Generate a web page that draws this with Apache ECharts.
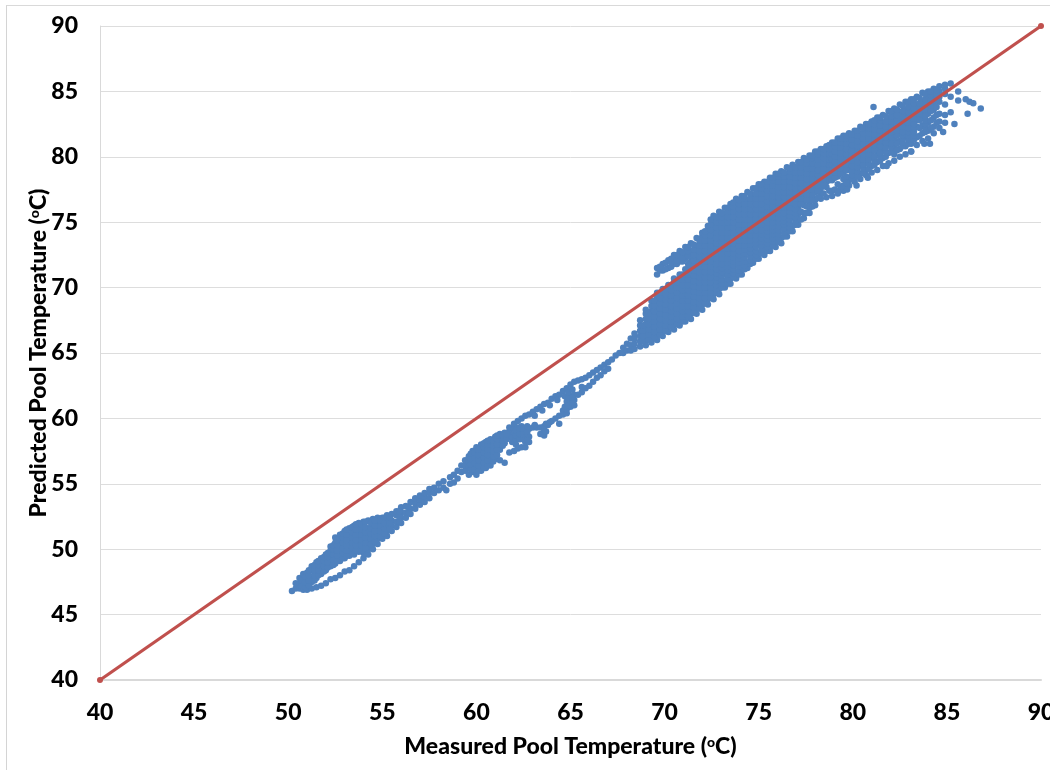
<!DOCTYPE html>
<html><head><meta charset="utf-8">
<script src="https://cdn.jsdelivr.net/npm/echarts@6/dist/echarts.min.js"></script>
<style>html,body{margin:0;padding:0;background:#fff;overflow:hidden}
#frame{position:absolute;left:6px;top:5px;width:1044px;height:765px;border-left:1px solid #d4d4d4;border-top:1px solid #d9d9d9}
#c{position:absolute;left:0;top:0;width:1050px;height:770px}</style></head>
<body><div id="frame"></div><div id="c"></div>
<script>
// Each row: measured temperature, then the predicted temperatures read at that column
const lowClusterRows = [
[50.2,46.8],[50.4,47.0,47.4],[50.6,47.0,47.4,47.8],[50.8,46.9,47.3,47.7,48.1],[51.0,46.9,47.3,47.7,48.2],
[51.25,47.0,47.5,47.9,48.4,48.7],[51.5,47.1,47.8,48.2,48.6,49.0],[51.75,47.2,48.1,48.5,48.9,49.3],[52.0,47.4,48.4,48.8,49.2,49.6],
[52.25,47.7,48.7,49.1,49.5,49.9,50.2],[52.5,47.8,48.9,49.3,49.7,50.1,50.5,50.9],[52.75,48.0,49.1,49.5,49.9,50.3,50.7,51.1],
[53.0,48.3,49.3,49.7,50.1,50.5,50.9,51.4],[53.25,48.4,49.5,49.9,50.3,50.7,51.1,51.6],[53.5,48.7,49.6,50.0,50.4,50.8,51.2,51.8],
[53.75,49.0,49.8,50.2,50.6,51.0,51.4,51.8,52.0],[54.0,49.3,49.7,50.1,50.5,50.9,51.3,51.7,52.1],[54.25,49.6,50.0,50.4,50.8,51.2,51.6,52.2],
[54.5,50.0,50.4,50.8,51.2,51.6,52.0,52.3],[54.75,50.4,50.8,51.2,51.6,52.0,52.4],[55.0,50.8,51.2,51.6,52.0,52.4],
[55.25,51.0,51.4,51.8,52.2,52.6],[55.5,51.4,51.8,52.2,52.7],[55.75,51.7,52.1,52.6,52.9],[56.0,52.0,52.4,52.8,53.2],
[56.25,52.4,52.8,53.3],[56.5,52.7,53.1,53.6],[56.75,53.1,53.5,53.9],[57.0,53.4,53.8,54.1],[57.25,53.6,54.0,54.3],
[57.5,53.9,54.3,54.6],[57.75,54.3,54.7],[58.0,54.5,55.0],[58.25,54.7,55.2],[58.4,54.5],[58.6,55.0,55.5],[58.8,55.1,55.7],[59.0,55.4,56.0]
];
const lowFillRows = [
[50.7,47.2,47.6],[50.9,47.1,47.5,47.9],[51.1,47.2,47.6,48.0,48.4],[51.4,47.6,48.0,48.4,48.8],[51.6,48.0,48.4,48.8,49.1],[51.9,48.3,48.7,49.1,49.4],
[52.1,48.6,49.0,49.4,49.7],[52.4,48.8,49.2,49.6,50.0,50.3],[52.6,49.1,49.5,49.9,50.3,50.7],[52.9,49.3,49.7,50.1,50.5,50.9,51.2],[53.1,49.5,49.9,50.3,50.7,51.1,51.5],
[53.4,49.7,50.1,50.5,50.9,51.3,51.7],[53.6,49.9,50.3,50.7,51.1,51.5,51.9],[53.9,49.9,50.3,50.7,51.1,51.5,51.9],[54.1,50.1,50.5,50.9,51.3,51.7,52.1],
[54.4,50.4,50.8,51.2,51.6,52.0],[54.6,50.6,51.0,51.4,51.8,52.2],[54.9,51.0,51.4,51.8,52.2],[55.1,51.2,51.6,52.0,52.4],[55.4,51.6,52.0,52.4],[55.9,52.1,52.5,52.9],[56.4,52.8,53.2]
];
const midClusterRows = [
[59.2,55.9,56.4],[59.4,56.0,56.4,56.8],[59.6,55.7,56.3,56.7,57.1],[59.8,55.9,56.4,56.8,57.2,57.5],[60.0,55.7,56.2,56.6,57.0,57.4,57.8],
[60.25,56.0,56.4,56.8,57.2,57.6,58.0],[60.5,56.2,56.6,57.0,57.4,57.8,58.2],[60.75,56.4,56.8,57.2,57.6,58.0,58.4],[61.0,56.9,57.3,57.7,58.1,58.6],
[61.25,56.8,57.6,58.0,58.4,58.8],[61.5,56.6,58.1,58.5,58.9],[61.75,57.4,58.6,59.0,59.3],[62.0,57.5,58.8,59.2,59.6],[62.2,57.7,58.9,59.3,59.8],
[62.4,57.8,59.0,59.4,60.0],[62.6,57.8,58.2,58.6,59.0,60.2],[62.8,58.2,58.6,59.2,60.3],[63.0,59.3,60.5],[63.2,59.3,60.7],[63.4,58.8,59.3,60.9],
[63.6,58.7,59.1,59.4,61.1],[63.8,59.5,61.2],[64.0,59.8,61.5],[64.2,60.0,61.7],[64.4,59.6,60.2,61.8],[64.6,60.3,60.6,62.1],[64.8,60.4,60.7,61.3,62.3],
[65.0,60.9,61.3,61.7,62.6],[65.2,61.0,61.4,61.8,62.8],[65.4,61.8,62.9],[65.6,62.0,62.4,63.0]
];
const midFillRows = [
[59.7,56.1,56.5,56.9,57.3],[59.9,56.1,56.6,57.0,57.4],[60.1,56.0,56.4,56.8,57.2,57.6],[60.4,56.2,56.6,57.0,57.4,57.8,58.1],[60.6,56.4,56.8,57.2,57.6,58.0,58.3],
[60.9,56.7,57.1,57.5,57.9,58.3],[61.1,57.2,57.6,58.0,58.4,58.7],[61.4,57.9,58.3,58.7],[61.6,58.4,58.8],[61.9,58.2,58.5],[62.1,58.0,58.4,58.7,59.1],[62.3,58.4,58.8,59.2],
[62.5,58.4,58.8,59.2],[62.7,58.4,58.8,59.0,59.4],[63.1,59.5,60.2],[63.5,60.6],[63.7,59.0,59.6],[63.9,59.7,61.0],[64.3,61.4],[64.7,60.9,61.7],[64.9,61.0,61.6,62.0],[65.1,61.2,61.6,62.2]
];
const tailRows = [
[65.8,62.3,63.1],[66.0,62.5,63.3],[66.2,62.8,63.5],[66.4,63.1,63.7],[66.6,63.3,63.9],[66.8,63.6,64.1],[67.0,63.8,64.3],[67.2,64.5],[67.4,64.8],
[67.6,65.0],[67.8,65.0,65.4],[68.0,65.2,65.7],[68.2,65.2,65.6,66.1]
];
const upperLeftRows = [
[68.4,65.3,65.7,66.1,66.5],[68.7,65.5,65.9,66.3,66.7,67.1,67.5],[69.0,65.6,66.0,66.4,66.8,67.2,67.6,68.0,68.3],
[69.3,65.8,66.2,66.6,67.0,67.4,67.8,68.2,68.6,69.0],[69.6,66.0,66.4,66.8,67.2,67.6,68.0,68.4,68.8,69.2,69.6,71.0,71.5],
[69.9,66.3,66.7,67.1,67.5,67.9,68.3,68.7,69.1,69.5,69.9,71.3,71.8],[70.2,66.6,67.0,67.4,67.8,68.2,68.6,69.0,69.4,69.8,70.2,71.5,72.1],
[70.5,66.8,67.2,67.6,68.0,68.4,68.8,69.2,69.6,70.0,70.4,70.7,71.8,72.2,72.5],[70.8,67.1,67.5,67.9,68.3,68.7,69.1,69.5,69.9,70.3,70.7,71.0,72.0,72.4,72.8],
[71.1,67.4,67.8,68.2,68.6,69.0,69.4,69.8,70.2,70.6,71.0,71.4,72.2,72.6,73.1],[71.4,67.6,68.0,68.4,68.8,69.2,69.6,70.0,70.4,70.8,71.2,71.6,72.0,72.4,72.8,73.4],
[71.7,68.0,68.4,68.8,69.2,69.6,70.0,70.4,70.8,71.2,71.6,72.0,72.4,72.8,73.2,73.8],[72.0,68.3,68.7,69.1,69.5,69.9,70.3,70.7,71.1,71.5,71.9,72.3,72.7,73.1,73.5,73.9,74.2],
[72.3,68.7,69.1,69.5,69.9,70.3,70.7,71.1,71.5,71.9,72.3,72.7,73.1,73.5,73.9,74.3,74.7],[72.6,69.1,69.5,69.9,70.3,70.7,71.1,71.5,71.9,72.3,72.7,73.1,73.5,73.9,74.3,74.7,75.1,75.5],
[72.9,69.5,69.9,70.3,70.7,71.1,71.5,71.9,72.3,72.7,73.1,73.5,73.9,74.3,74.7,75.1,75.5,75.8],[73.2,70.0,70.4,71.2,71.6,72.0,72.4,72.8,73.2,73.6,74.0,74.4,74.8,75.2,75.6,76.1],
[73.5,70.3,70.7,71.1,71.5,71.9,72.3,72.7,73.1,73.5,73.9,74.3,74.7,75.1,75.5,75.9,76.4],[73.8,70.7,71.1,71.9,72.3,72.7,73.1,73.5,73.9,74.3,74.7,75.1,75.5,75.9,76.3,76.8]
];
const upperLeftFillRows = [
[68.85,65.9,66.3,66.7,67.1],[69.15,66.0,66.4,66.8,67.2,67.6,68.0],[69.45,66.2,66.6,67.0,67.4,67.8,68.2,68.6,69.0],[69.75,66.4,66.8,67.2,67.6,68.0,68.4,68.8,69.2,69.6,71.3,71.6],
[70.05,66.7,67.1,67.5,67.9,68.3,68.7,69.1,69.5,69.9,71.4,71.9],[70.35,67.0,67.4,67.8,68.2,68.6,69.0,69.4,69.8,70.2,71.6,71.9,72.2],[70.65,67.2,67.6,68.0,68.4,68.8,69.2,69.6,70.0,70.4,71.8,72.1,72.5],
[70.95,67.4,67.8,68.2,68.6,69.0,69.4,69.8,70.2,70.6,71.0,72.0,72.3,72.7],[71.25,67.8,68.2,68.6,69.0,69.4,69.8,70.2,70.6,71.0,71.4,71.8,72.4,72.8,73.1],[71.55,68.1,68.5,68.9,69.3,69.7,70.1,70.5,70.9,71.3,71.7,72.1,72.5,72.9,73.3],
[71.85,68.4,68.8,69.2,69.6,70.0,70.4,70.8,71.2,71.6,72.0,72.4,72.8,73.2,73.6],[72.15,68.8,69.2,69.6,70.0,70.4,70.8,71.2,71.6,72.0,72.4,72.8,73.2,73.6,74.0,74.3],
[72.45,69.2,69.6,70.0,70.4,70.8,71.2,71.6,72.0,72.4,72.8,73.2,73.6,74.0,74.4,74.8,75.2],[72.75,69.6,69.9,70.2,70.5,70.8,71.1,71.4,71.8,72.2,72.6,73.0,73.4,73.8,74.2,74.6,75.0,75.4],
[73.05,70.0,70.3,70.6,70.9,71.2,71.5,71.8,72.2,72.6,73.0,73.4,73.8,74.2,74.6,75.0,75.4,75.7],[73.35,70.3,70.65,71.0,71.3,71.6,71.9,72.2,72.6,73.0,73.4,73.8,74.2,74.6,75.0,75.4,75.8,76.1],
[73.65,70.8,71.1,71.4,71.7,72.0,72.3,72.6,73.0,73.4,73.8,74.2,74.6,75.0,75.4,75.8,76.2,76.5]
];
const upperMidRows = [
[74.1,71.0,71.4,71.8,72.2,72.6,73.0,73.4,73.8,74.2,74.6,75.0,75.4,75.8,76.2,76.6,77.0],[74.4,71.5,71.9,72.7,73.1,73.5,73.9,74.3,74.7,75.1,75.5,75.9,76.3,76.7,77.3],
[74.7,71.9,72.3,72.7,73.1,73.5,73.9,74.3,74.7,75.1,75.5,75.9,76.3,76.7,77.1,77.6],[75.0,72.2,72.6,73.4,73.8,74.2,74.6,75.0,75.4,75.8,76.2,76.6,77.0,77.4,77.9],
[75.3,72.5,72.9,73.3,73.7,74.1,74.5,74.9,75.3,75.7,76.1,76.5,76.9,77.3,77.7,78.1],[75.6,72.8,73.2,74.0,74.4,74.8,75.2,75.6,76.0,76.4,76.8,77.2,77.6,78.0,78.4],
[75.9,73.1,73.5,73.9,74.3,74.7,75.1,75.5,75.9,76.3,76.7,77.1,77.5,77.9,78.3,78.7],[76.2,73.4,73.8,74.6,75.0,75.4,75.8,76.2,76.6,77.0,77.4,77.8,78.2,78.6,78.9],
[76.5,73.9,74.3,74.7,75.1,75.5,75.9,76.3,76.7,77.1,77.5,77.9,78.3,78.7,79.2],[76.8,74.3,74.7,75.4,75.8,76.2,76.6,77.0,77.4,77.8,78.2,78.6,79.0,79.4],
[77.1,74.8,75.2,75.6,76.0,76.4,76.8,77.2,77.6,78.0,78.4,78.8,79.2,79.6],[77.4,75.3,75.7,76.3,76.7,77.1,77.5,77.9,78.3,78.7,79.1,79.5,79.9],
[77.7,75.7,76.1,76.5,76.9,77.3,77.7,78.1,78.5,78.9,79.3,79.7,80.1],[78.0,76.3,76.7,77.3,77.7,78.1,78.5,78.9,79.3,79.7,80.1,80.4],
[78.3,76.8,77.2,77.6,78.0,78.4,78.8,79.2,79.6,80.0,80.3,80.6],[78.6,76.9,77.7,78.1,78.5,78.9,79.3,79.7,80.1,80.5,80.8]
];
const upperMidFillRows = [
[73.95,71.0,71.3,71.6,71.9,72.2,72.5,72.8,73.2,73.6,74.0,74.4,74.8,75.2,75.6,76.0,76.4,76.7],[74.25,71.4,71.7,72.0,72.3,72.6,72.9,73.2,73.6,74.0,74.4,74.8,75.2,75.6,76.0,76.4,76.8,77.0],
[74.55,71.8,72.1,72.4,72.7,73.0,73.3,73.6,74.0,74.4,74.8,75.2,75.6,76.0,76.4,76.8,77.2],[74.85,72.2,72.5,72.8,73.1,73.4,73.7,74.0,74.4,74.8,75.2,75.6,76.0,76.4,76.8,77.2,77.6],
[75.15,72.6,72.9,73.2,73.5,73.8,74.1,74.4,74.8,75.2,75.6,76.0,76.4,76.8,77.2,77.6,77.9],[75.45,72.8,73.1,73.4,73.7,74.0,74.3,74.6,75.0,75.4,75.8,76.2,76.6,77.0,77.4,77.8,78.1],
[75.75,73.2,73.5,73.8,74.1,74.4,74.7,75.0,75.4,75.8,76.2,76.6,77.0,77.4,77.8,78.2,78.4],[76.05,73.5,73.8,74.1,74.4,74.7,75.0,75.3,75.7,76.1,76.5,76.9,77.3,77.7,78.1,78.5,78.7],
[76.35,73.9,74.2,74.5,74.8,75.1,75.4,75.7,76.1,76.5,76.9,77.3,77.7,78.1,78.5,78.8],[76.65,74.3,74.6,74.9,75.2,75.5,75.8,76.1,76.5,76.9,77.3,77.7,78.1,78.5,78.9,79.1],
[76.95,74.8,75.1,75.4,75.7,76.0,76.4,76.8,77.2,77.6,78.0,78.4,78.8,79.2],[77.25,75.2,75.8,76.4,76.8,77.2,77.6,78.0,78.4,78.8,79.2,79.6],
[77.55,75.7,76.2,76.7,77.1,77.5,77.9,78.3,78.7,79.1,79.5,79.8],[77.85,76.2,76.7,77.1,77.5,77.9,78.3,78.7,79.1,79.5,79.9,80.1],
[78.15,76.9,77.4,77.8,78.2,78.6,79.0,79.4,79.8,80.2,80.4],[78.45,77.2,77.9,78.3,78.7,79.1,79.5,79.9,80.3,80.6],[78.75,77.4,78.2,78.6,79.0,79.4,79.8,80.2,80.6,80.9]
];
const upperRightRows = [
[78.9,77.0,77.4,78.2,78.6,79.0,79.4,79.8,80.2,80.6,81.1],[79.2,77.2,77.9,78.5,78.9,79.3,79.7,80.1,80.5,80.9,81.4],
[79.5,77.4,77.8,78.3,78.8,79.2,79.6,80.0,80.4,80.8,81.2,81.6],[79.8,77.8,78.2,79.0,79.4,79.8,80.2,80.6,81.0,81.4,81.8],
[80.1,78.1,78.6,79.1,79.5,79.9,80.3,80.7,81.1,81.5,82.0],[80.4,78.3,78.7,79.4,79.8,80.2,80.6,81.0,81.4,81.8,82.3],
[80.7,78.6,79.0,79.6,80.0,80.4,80.8,81.2,81.6,82.0,82.5],[81.0,78.8,79.3,80.0,80.4,80.8,81.2,81.6,82.0,82.4,82.7],
[81.3,79.0,79.6,80.2,80.6,81.0,81.4,81.8,82.2,82.6,83.0],[81.6,79.3,79.9,80.5,81.0,81.4,81.8,82.2,82.6,83.2],
[81.9,79.5,80.3,81.0,81.4,81.8,82.2,82.6,83.0,83.5],[82.2,79.7,80.2,80.7,81.3,81.7,82.1,82.5,82.9,83.3,83.7],
[82.5,80.0,80.6,81.2,81.8,82.2,82.6,83.0,83.4,84.0],[82.8,80.2,80.8,81.5,82.0,82.4,82.8,83.2,83.6,84.2],
[83.1,80.4,81.0,81.6,82.2,82.6,83.0,83.4,83.8,84.4],[83.4,80.9,81.5,82.3,82.8,83.2,83.6,84.0,84.6],
[83.7,81.2,81.8,82.4,83.0,83.4,83.8,84.2,84.9],[84.0,81.4,82.0,82.6,83.3,83.7,84.1,84.5,85.0],
[84.3,81.8,82.3,83.0,83.6,84.0,84.4,84.8,85.2],[84.6,82.2,82.7,83.3,84.2,84.6,85.0,85.4],[84.9,82.6,83.2,84.0,84.8,85.2,85.5],[85.2,83.4,84.6,85.6]
];
const upperRightFillRows = [
[79.05,77.5,78.4,78.8,79.2,79.6,80.0,80.4,80.8,81.1],[79.35,77.6,78.7,79.1,79.5,79.9,80.3,80.7,81.1,81.4],[79.65,78.0,78.5,79.0,79.4,79.8,80.2,80.6,81.0,81.4,81.6],
[79.95,78.3,78.6,78.9,79.3,79.7,80.1,80.5,80.9,81.3,81.7],[80.25,78.5,78.85,79.2,79.6,80.0,80.4,80.8,81.2,81.6,82.0],[80.55,78.8,79.1,79.4,79.8,80.2,80.6,81.0,81.4,81.8,82.2],
[80.85,79.1,79.45,79.8,80.2,80.6,81.0,81.4,81.8,82.2,82.5],[81.15,79.4,79.7,80.0,80.5,80.9,81.3,81.7,82.1,82.5,82.8],[81.45,79.7,80.0,80.3,80.8,81.2,81.6,82.0,82.4,82.8,83.0],
[81.75,80.0,80.35,80.7,81.1,81.5,81.9,82.3,82.7,83.1],[82.05,80.4,80.7,81.0,81.5,81.9,82.3,82.7,83.1,83.5],[82.35,80.5,81.0,81.6,82.0,82.4,82.8,83.2,83.6],
[82.65,80.8,81.1,81.4,81.65,81.9,82.3,82.7,83.1,83.5,83.9],[82.95,81.0,81.3,81.6,81.9,82.2,82.6,83.0,83.4,83.8,84.2],[83.25,81.3,81.6,81.9,82.2,82.5,82.9,83.3,83.7,84.1,84.4],
[83.55,81.6,82.2,82.8,83.3,83.7,84.1,84.5],[83.85,81.9,82.2,82.5,82.8,83.1,83.6,84.0,84.4,84.8],[84.15,82.2,82.8,83.5,83.9,84.3,84.7,85.0],[84.45,82.6,83.2,83.8,84.3,84.7,85.1]
];
const outlierX = [81.1,85.6,85.6,86.0,86.2,86.4,86.8,86.1,85.4,84.8,83.1,83.8,81.8,80.8,80.2,79.7,79.2,84.1];
const outlierY = [83.8,85.0,84.3,84.4,84.2,84.1,83.7,83.3,82.5,81.9,80.4,81.0,79.3,78.4,77.8,77.5,77.3,81.0];
const referenceX = [40,90];
const referenceY = [40,90];
const axisTicks = {min:40,max:90,step:5};

const pts = [];
[lowClusterRows,lowFillRows,midClusterRows,midFillRows,tailRows,upperLeftRows,upperLeftFillRows,upperMidRows,upperMidFillRows,upperRightRows,upperRightFillRows].forEach(rows=>
  rows.forEach(r=>r.slice(1).forEach(y=>pts.push([r[0],y]))));
outlierX.forEach((x,i)=>pts.push([x,outlierY[i]]));

const font='Lato';
const nameRich={o:{fontFamily:font,fontWeight:900,fontSize:14,color:'#000',verticalAlign:'top',padding:[0,0,9,0]},
                t:{fontFamily:font,fontWeight:900,fontSize:23,color:'#000'}};
const chart=echarts.init(document.getElementById('c'),null,{renderer:'canvas'});
chart.setOption({
  animation:false,backgroundColor:'transparent',
  grid:{left:100,right:9,top:26,bottom:90,containLabel:false,outerBoundsMode:'none'},
  xAxis:{type:'value',min:axisTicks.min,max:axisTicks.max,interval:axisTicks.step,
    name:'{t|Measured Pool Temperature (}{o|o}{t|C)}',nameLocation:'middle',nameGap:55,nameMoveOverlap:false,
    nameTextStyle:{rich:nameRich},
    axisLine:{show:true,onZero:false,lineStyle:{color:'#d9d9d9',width:2}},axisTick:{show:false},splitLine:{show:false},
    axisLabel:{color:'#000',fontFamily:font,fontWeight:900,fontSize:23,margin:21,hideOverlap:false,showMaxLabel:true,showMinLabel:true}},
  yAxis:{type:'value',min:axisTicks.min,max:axisTicks.max,interval:axisTicks.step,
    name:'{t|Predicted Pool Temperature (}{o|o}{t|C)}',nameLocation:'middle',nameGap:50,nameRotate:90,nameMoveOverlap:false,
    nameTextStyle:{rich:nameRich},
    axisLine:{show:true,onZero:false,lineStyle:{color:'#d9d9d9',width:1}},axisTick:{show:false},
    splitLine:{show:true,lineStyle:{color:'#dddddd',width:1}},
    axisLabel:{color:'#000',fontFamily:font,fontWeight:900,fontSize:23,margin:22,showMaxLabel:true,showMinLabel:true}},
  series:[
    {type:'scatter',data:pts,symbol:'circle',symbolSize:6.5,itemStyle:{color:'#4F81BD',opacity:1},clip:false,large:false,z:3},
    {type:'line',data:referenceX.map((x,i)=>[x,referenceY[i]]),symbol:'circle',symbolSize:6,showSymbol:true,clip:false,
     lineStyle:{color:'#C0504D',width:3.2},itemStyle:{color:'#C0504D'},z:4}
  ]
});
</script></body></html>
